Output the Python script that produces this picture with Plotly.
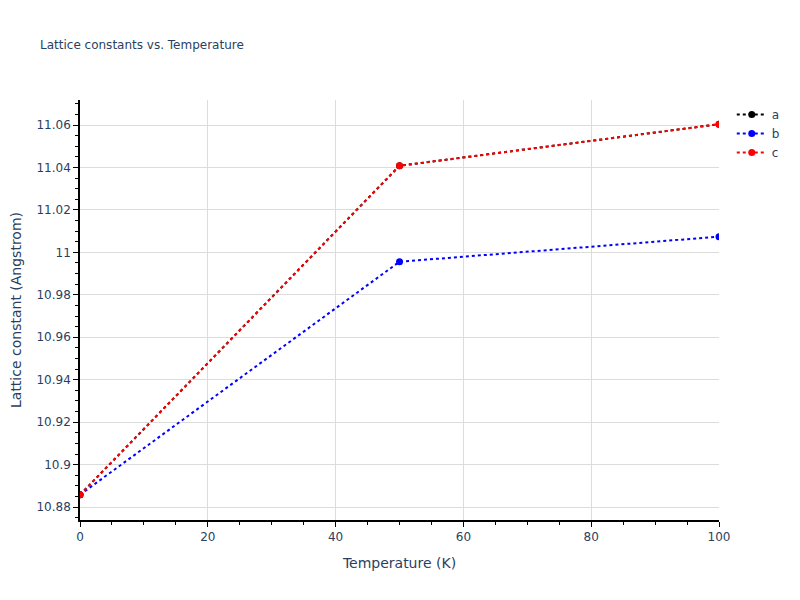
import plotly.graph_objects as go

temperature = [0, 50, 100]
lat_a = [10.8858, 11.0408, 11.0604]
lat_b = [10.8858, 10.9956, 11.0074]
lat_c = [10.8858, 11.0408, 11.0604]

series = [("a", lat_a, "black"), ("b", lat_b, "blue"), ("c", lat_c, "red")]

fig = go.Figure()
for name, vals, col in series:
    fig.add_trace(go.Scatter(x=temperature, y=vals, name=name, mode="lines+markers",
                             line=dict(color=col, dash="dot", width=2),
                             marker=dict(color=col, size=7)))

axis_style = dict(showline=True, linecolor="black", linewidth=1.5, ticks="outside",
                  tickcolor="black", showgrid=True, gridcolor="#dcdcdc", zeroline=False,
                  title_font=dict(size=14), automargin=False)

# page has an 8px body margin, so shift the figure to line up with the reference
fig.update_layout(
    template="plotly_white",
    width=800, height=600,
    font=dict(family="DejaVu Sans"),
    title=dict(text="Lattice constants vs. Temperature", font=dict(size=12),
               x=0.04, xanchor="left", y=1 - 37 / 600, yanchor="middle"),
    margin=dict(l=72, r=89, t=92, b=88),
)
fig.update_xaxes(axis_style, title_text="Temperature (K)", range=[0, 100], dtick=20,
                 minor=dict(dtick=5, ticks="outside", tickcolor="black", showgrid=False))
fig.update_yaxes(axis_style, title_text="Lattice constant (Angstrom)", range=[10.8739, 11.0718],
                 dtick=0.02, minor=dict(dtick=0.005, ticks="outside", tickcolor="black", showgrid=False))

fig.write_html("out.html")
